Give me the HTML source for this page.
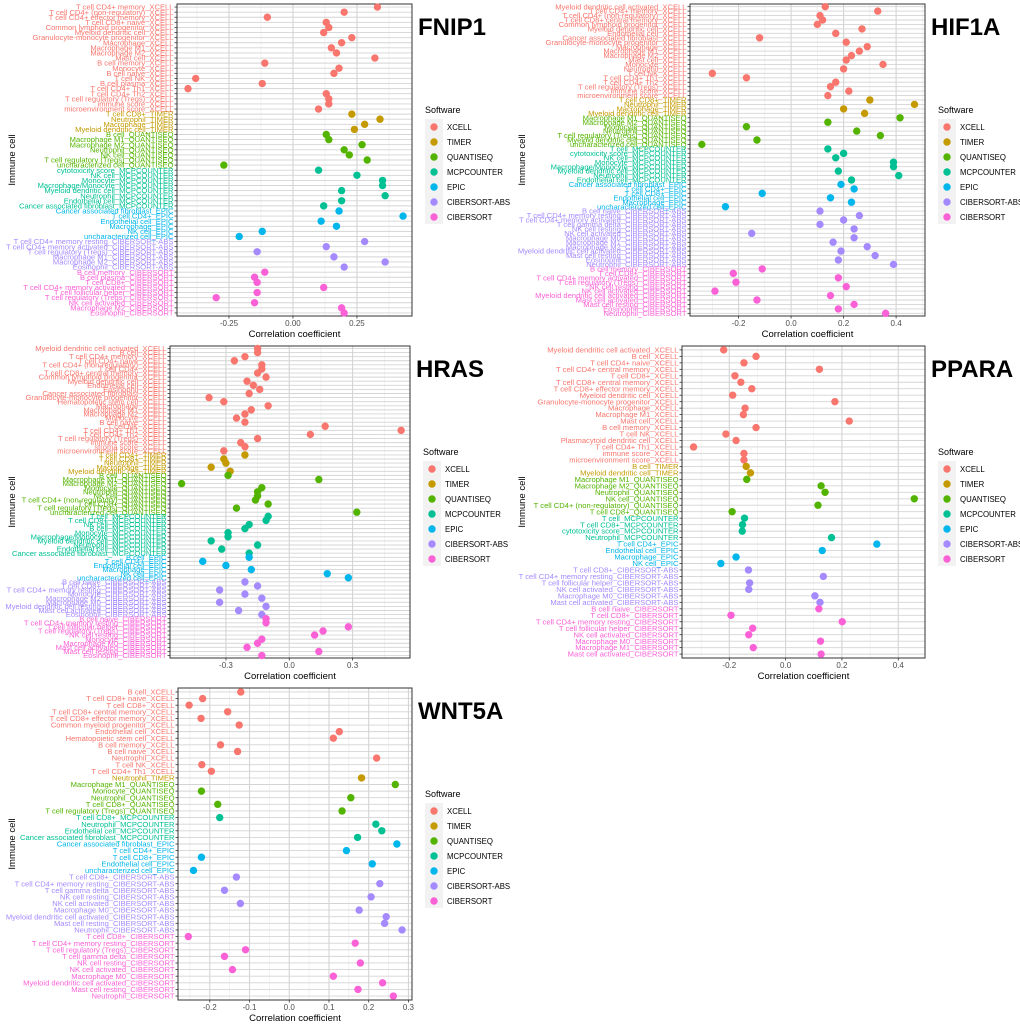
<!DOCTYPE html>
<html><head><meta charset="utf-8"><style>
html,body{margin:0;padding:0;background:#fff;}
svg{display:block;font-family:"Liberation Sans",sans-serif;}
</style></head><body>
<svg id="fig" width="1020" height="1024" viewBox="0 0 1020 1024" xmlns="http://www.w3.org/2000/svg"></svg>
<script>
const fnip1Labels=["T cell CD4+ memory_XCELL","T cell CD4+ (non-regulatory)_XCELL","T cell CD4+ effector memory_XCELL","T cell CD8+ naive_XCELL","Common lymphoid progenitor_XCELL","Myeloid dendritic cell_XCELL","Granulocyte-monocyte progenitor_XCELL","Macrophage_XCELL","Macrophage M1_XCELL","Macrophage M2_XCELL","Mast cell_XCELL","B cell memory_XCELL","Monocyte_XCELL","B cell naive_XCELL","T cell NK_XCELL","B cell plasma_XCELL","T cell CD4+ Th1_XCELL","T cell CD4+ Th2_XCELL","T cell regulatory (Tregs)_XCELL","immune score_XCELL","microenvironment score_XCELL","T cell CD8+_TIMER","Neutrophil_TIMER","Macrophage_TIMER","Myeloid dendritic cell_TIMER","B cell_QUANTISEQ","Macrophage M1_QUANTISEQ","Macrophage M2_QUANTISEQ","Neutrophil_QUANTISEQ","NK cell_QUANTISEQ","T cell regulatory (Tregs)_QUANTISEQ","uncharacterized cell_QUANTISEQ","cytotoxicity score_MCPCOUNTER","NK cell_MCPCOUNTER","Monocyte_MCPCOUNTER","Macrophage/Monocyte_MCPCOUNTER","Myeloid dendritic cell_MCPCOUNTER","Neutrophil_MCPCOUNTER","Endothelial cell_MCPCOUNTER","Cancer associated fibroblast_MCPCOUNTER","Cancer associated fibroblast_EPIC","T cell CD4+_EPIC","Endothelial cell_EPIC","Macrophage_EPIC","NK cell_EPIC","uncharacterized cell_EPIC","T cell CD4+ memory resting_CIBERSORT-ABS","T cell CD4+ memory activated_CIBERSORT-ABS","T cell regulatory (Tregs)_CIBERSORT-ABS","Macrophage M1_CIBERSORT-ABS","Macrophage M2_CIBERSORT-ABS","Eosinophil_CIBERSORT-ABS","B cell memory_CIBERSORT","B cell plasma_CIBERSORT","T cell CD8+_CIBERSORT","T cell CD4+ memory activated_CIBERSORT","T cell follicular helper_CIBERSORT","T cell regulatory (Tregs)_CIBERSORT","NK cell activated_CIBERSORT","Macrophage M2_CIBERSORT","Eosinophil_CIBERSORT"];
const fnip1Values=[0.33,0.20,-0.10,0.13,0.14,0.12,0.23,0.19,0.15,0.17,0.32,-0.11,0.18,0.16,-0.38,-0.12,-0.41,0.13,0.14,0.14,0.10,0.23,0.34,0.28,0.24,0.13,0.14,0.27,0.20,0.22,0.29,-0.27,0.10,0.25,0.35,0.35,0.19,0.36,0.19,0.12,0.18,0.43,0.11,0.17,-0.12,-0.21,0.28,0.13,-0.14,0.16,0.36,0.20,-0.11,-0.15,-0.14,0.12,-0.14,-0.30,-0.15,0.19,0.20];

const hif1aLabels=["Myeloid dendritic cell activated_XCELL","T cell CD4+ memory_XCELL","T cell CD4+ (non-regulatory)_XCELL","T cell CD8+ central memory_XCELL","Common lymphoid progenitor_XCELL","Myeloid dendritic cell_XCELL","Endothelial cell_XCELL","Cancer associated fibroblast_XCELL","Granulocyte-monocyte progenitor_XCELL","Macrophage_XCELL","Macrophage M1_XCELL","Macrophage M2_XCELL","Mast cell_XCELL","Monocyte_XCELL","Neutrophil_XCELL","T cell NK_XCELL","T cell CD4+ Th1_XCELL","T cell CD4+ Th2_XCELL","T cell regulatory (Tregs)_XCELL","immune score_XCELL","microenvironment score_XCELL","T cell CD8+_TIMER","Neutrophil_TIMER","Macrophage_TIMER","Myeloid dendritic cell_TIMER","Macrophage M1_QUANTISEQ","Macrophage M2_QUANTISEQ","Monocyte_QUANTISEQ","Neutrophil_QUANTISEQ","T cell regulatory (Tregs)_QUANTISEQ","Myeloid dendritic cell_QUANTISEQ","uncharacterized cell_QUANTISEQ","T cell_MCPCOUNTER","cytotoxicity score_MCPCOUNTER","NK cell_MCPCOUNTER","Monocyte_MCPCOUNTER","Macrophage/Monocyte_MCPCOUNTER","Myeloid dendritic cell_MCPCOUNTER","Neutrophil_MCPCOUNTER","Endothelial cell_MCPCOUNTER","Cancer associated fibroblast_EPIC","T cell CD4+_EPIC","T cell CD8+_EPIC","Endothelial cell_EPIC","Macrophage_EPIC","uncharacterized cell_EPIC","B cell naive_CIBERSORT-ABS","T cell CD4+ memory resting_CIBERSORT-ABS","T cell CD4+ memory activated_CIBERSORT-ABS","T cell gamma delta_CIBERSORT-ABS","NK cell resting_CIBERSORT-ABS","NK cell activated_CIBERSORT-ABS","Macrophage M0_CIBERSORT-ABS","Macrophage M1_CIBERSORT-ABS","Macrophage M2_CIBERSORT-ABS","Myeloid dendritic cell activated_CIBERSORT-ABS","Mast cell resting_CIBERSORT-ABS","Eosinophil_CIBERSORT-ABS","Neutrophil_CIBERSORT-ABS","B cell memory_CIBERSORT","T cell CD8+_CIBERSORT","T cell CD4+ memory activated_CIBERSORT","T cell regulatory (Tregs)_CIBERSORT","NK cell resting_CIBERSORT","NK cell activated_CIBERSORT","Myeloid dendritic cell activated_CIBERSORT","Mast cell activated_CIBERSORT","Mast cell resting_CIBERSORT","Eosinophil_CIBERSORT","Neutrophil_CIBERSORT"];
const hif1aValues=[0.13,0.33,0.11,0.12,0.10,0.27,0.17,-0.12,0.21,0.29,0.26,0.23,0.21,0.35,0.20,-0.30,-0.17,0.17,0.15,0.22,0.14,0.30,0.47,0.20,0.28,0.415,0.14,-0.17,0.25,0.34,-0.13,-0.34,0.14,0.20,0.17,0.39,0.39,0.18,0.41,0.23,0.19,0.24,-0.11,0.15,0.23,-0.25,0.11,0.26,0.20,0.11,0.24,-0.15,0.24,0.16,0.29,0.19,0.32,0.18,0.39,-0.11,-0.22,0.18,-0.21,0.21,-0.29,0.15,-0.13,0.24,0.18,0.36];

const hrasLabels=["Myeloid dendritic cell activated_XCELL","B cell_XCELL","T cell CD4+ memory_XCELL","T cell CD4+ naive_XCELL","T cell CD4+ (non-regulatory)_XCELL","T cell CD4+_XCELL","T cell CD8+ central memory_XCELL","Common lymphoid progenitor_XCELL","Myeloid dendritic cell_XCELL","Endothelial cell_XCELL","Eosinophil_XCELL","Cancer associated fibroblast_XCELL","Granulocyte-monocyte progenitor_XCELL","Hematopoietic stem cell_XCELL","Macrophage_XCELL","Macrophage M1_XCELL","Macrophage M2_XCELL","Monocyte_XCELL","B cell naive_XCELL","T cell NK_XCELL","T cell CD4+ Th1_XCELL","T cell CD4+ Th2_XCELL","T cell regulatory (Tregs)_XCELL","immune score_XCELL","stroma score_XCELL","microenvironment score_XCELL","T cell CD4+_TIMER","T cell CD8+_TIMER","Neutrophil_TIMER","Macrophage_TIMER","Myeloid dendritic cell_TIMER","B cell_QUANTISEQ","Macrophage M1_QUANTISEQ","Macrophage M2_QUANTISEQ","Monocyte_QUANTISEQ","Neutrophil_QUANTISEQ","NK cell_QUANTISEQ","T cell CD4+ (non-regulatory)_QUANTISEQ","T cell CD8+_QUANTISEQ","T cell regulatory (Tregs)_QUANTISEQ","uncharacterized cell_QUANTISEQ","T cell_MCPCOUNTER","T cell CD8+_MCPCOUNTER","NK cell_MCPCOUNTER","B cell_MCPCOUNTER","Monocyte_MCPCOUNTER","Macrophage/Monocyte_MCPCOUNTER","Myeloid dendritic cell_MCPCOUNTER","Neutrophil_MCPCOUNTER","Endothelial cell_MCPCOUNTER","Cancer associated fibroblast_MCPCOUNTER","B cell_EPIC","T cell CD4+_EPIC","Endothelial cell_EPIC","Macrophage_EPIC","NK cell_EPIC","uncharacterized cell_EPIC","B cell naive_CIBERSORT-ABS","T cell CD8+_CIBERSORT-ABS","T cell CD4+ memory resting_CIBERSORT-ABS","Monocyte_CIBERSORT-ABS","Macrophage M2_CIBERSORT-ABS","Macrophage M0_CIBERSORT-ABS","Myeloid dendritic cell resting_CIBERSORT-ABS","Mast cell activated_CIBERSORT-ABS","Eosinophil_CIBERSORT-ABS","B cell naive_CIBERSORT","T cell CD4+ memory resting_CIBERSORT","T cell follicular helper_CIBERSORT","T cell regulatory (Tregs)_CIBERSORT","NK cell resting_CIBERSORT","Monocyte_CIBERSORT","Macrophage M0_CIBERSORT","Mast cell activated_CIBERSORT","Mast cell resting_CIBERSORT","Eosinophil_CIBERSORT"];
const hrasValues=[-0.15,-0.15,-0.21,-0.26,-0.13,-0.13,-0.15,-0.11,-0.20,-0.17,-0.14,-0.19,-0.38,-0.31,-0.10,-0.18,-0.21,-0.25,-0.21,0.17,0.53,0.10,-0.15,-0.23,-0.21,-0.31,-0.21,-0.31,-0.30,-0.37,-0.28,-0.29,0.14,-0.51,-0.13,-0.15,-0.15,-0.16,-0.10,-0.25,0.32,-0.10,-0.11,-0.19,-0.21,-0.29,-0.29,-0.37,-0.15,-0.32,-0.19,-0.19,-0.41,-0.30,-0.18,0.18,0.28,-0.21,-0.15,-0.33,-0.21,-0.13,-0.33,-0.11,-0.24,-0.13,-0.11,-0.11,0.28,0.16,0.12,-0.13,-0.15,-0.20,0.14,-0.13];

const pparaLabels=["Myeloid dendritic cell activated_XCELL","B cell_XCELL","T cell CD4+ naive_XCELL","T cell CD4+ central memory_XCELL","T cell CD8+_XCELL","T cell CD8+ central memory_XCELL","T cell CD8+ effector memory_XCELL","Myeloid dendritic cell_XCELL","Granulocyte-monocyte progenitor_XCELL","Macrophage_XCELL","Macrophage M1_XCELL","Mast cell_XCELL","B cell memory_XCELL","T cell NK_XCELL","Plasmacytoid dendritic cell_XCELL","T cell CD4+ Th1_XCELL","immune score_XCELL","microenvironment score_XCELL","B cell_TIMER","Myeloid dendritic cell_TIMER","Macrophage M1_QUANTISEQ","Macrophage M2_QUANTISEQ","Neutrophil_QUANTISEQ","NK cell_QUANTISEQ","T cell CD4+ (non-regulatory)_QUANTISEQ","T cell CD8+_QUANTISEQ","T cell_MCPCOUNTER","T cell CD8+_MCPCOUNTER","cytotoxicity score_MCPCOUNTER","Neutrophil_MCPCOUNTER","T cell CD4+_EPIC","Endothelial cell_EPIC","Macrophage_EPIC","NK cell_EPIC","T cell CD8+_CIBERSORT-ABS","T cell CD4+ memory resting_CIBERSORT-ABS","T cell follicular helper_CIBERSORT-ABS","NK cell activated_CIBERSORT-ABS","Macrophage M0_CIBERSORT-ABS","Mast cell activated_CIBERSORT-ABS","B cell naive_CIBERSORT","T cell CD8+_CIBERSORT","T cell CD4+ memory resting_CIBERSORT","T cell follicular helper_CIBERSORT","NK cell activated_CIBERSORT","Macrophage M0_CIBERSORT","Macrophage M1_CIBERSORT","Mast cell activated_CIBERSORT"];
const pparaValues=[-0.22,-0.105,-0.148,0.12,-0.18,-0.159,-0.12,-0.188,0.175,-0.144,-0.15,0.226,-0.105,-0.212,-0.176,-0.327,-0.148,-0.148,-0.14,-0.125,-0.138,0.126,0.14,0.457,0.115,-0.19,-0.146,-0.153,-0.154,0.163,0.324,0.13,-0.176,-0.23,-0.132,0.134,-0.128,-0.131,0.104,0.122,0.118,-0.194,0.201,-0.117,-0.131,0.124,-0.115,0.126];

const wnt5aLabels=["B cell_XCELL","T cell CD8+ naive_XCELL","T cell CD8+_XCELL","T cell CD8+ central memory_XCELL","T cell CD8+ effector memory_XCELL","Common myeloid progenitor_XCELL","Endothelial cell_XCELL","Hematopoietic stem cell_XCELL","B cell memory_XCELL","B cell naive_XCELL","Neutrophil_XCELL","T cell NK_XCELL","T cell CD4+ Th1_XCELL","Neutrophil_TIMER","Macrophage M1_QUANTISEQ","Monocyte_QUANTISEQ","Neutrophil_QUANTISEQ","T cell CD8+_QUANTISEQ","T cell regulatory (Tregs)_QUANTISEQ","T cell CD8+_MCPCOUNTER","Neutrophil_MCPCOUNTER","Endothelial cell_MCPCOUNTER","Cancer associated fibroblast_MCPCOUNTER","Cancer associated fibroblast_EPIC","T cell CD4+_EPIC","T cell CD8+_EPIC","Endothelial cell_EPIC","uncharacterized cell_EPIC","T cell CD8+_CIBERSORT-ABS","T cell CD4+ memory resting_CIBERSORT-ABS","T cell gamma delta_CIBERSORT-ABS","NK cell resting_CIBERSORT-ABS","NK cell activated_CIBERSORT-ABS","Macrophage M0_CIBERSORT-ABS","Myeloid dendritic cell activated_CIBERSORT-ABS","Mast cell resting_CIBERSORT-ABS","Neutrophil_CIBERSORT-ABS","T cell CD8+_CIBERSORT","T cell CD4+ memory resting_CIBERSORT","T cell regulatory (Tregs)_CIBERSORT","T cell gamma delta_CIBERSORT","NK cell resting_CIBERSORT","NK cell activated_CIBERSORT","Macrophage M0_CIBERSORT","Myeloid dendritic cell activated_CIBERSORT","Mast cell resting_CIBERSORT","Neutrophil_CIBERSORT"];
const wnt5aValues=[-0.122,-0.218,-0.252,-0.155,-0.222,-0.126,0.126,0.111,-0.173,-0.130,0.22,-0.22,-0.196,0.182,0.267,-0.221,0.155,-0.180,0.133,-0.175,0.218,0.233,0.172,0.271,0.144,-0.221,0.209,-0.241,-0.133,0.228,-0.163,0.206,-0.123,0.176,0.244,0.24,0.284,-0.254,0.166,-0.11,-0.163,0.179,-0.143,0.111,0.235,0.173,0.262];

const softwareNames=["XCELL","TIMER","QUANTISEQ","MCPCOUNTER","EPIC","CIBERSORT-ABS","CIBERSORT"];
const softwareColors=["#F8766D","#C49A00","#53B400","#00C094","#00B6EB","#A58AFF","#FB61D7"];

const NS="http://www.w3.org/2000/svg";
const svg=document.getElementById('fig');
function mk(tag,attrs,parent,text){const e=document.createElementNS(NS,tag);for(const k in attrs)e.setAttribute(k,attrs[k]);if(text!==undefined)e.textContent=text;(parent||svg).appendChild(e);return e;}
function colorOf(label){const s=label.slice(label.lastIndexOf('_')+1);const i=softwareNames.indexOf(s);return softwareColors[i<0?0:i];}

function drawPanel(p){
  const g=mk('g',{});
  
  
  const xs=v=>p.x1+(v-p.min)/(p.max-p.min)*(p.x2-p.x1);
  const n=p.labels.length;
  const step=(p.y2-p.y1)/(n-1+1.2);
  const ys=i=>p.y1+(0.6+i)*step;
  mk('rect',{x:p.x1,y:p.y1,width:p.x2-p.x1,height:p.y2-p.y1,fill:'#fff'},g);
  p.minor.forEach(v=>mk('line',{x1:xs(v),x2:xs(v),y1:p.y1,y2:p.y2,stroke:'#ebebeb','stroke-width':0.6},g));
  p.labels.forEach((l,i)=>mk('line',{x1:p.x1,x2:p.x2,y1:ys(i),y2:ys(i),stroke:'#d4d4d4','stroke-width':0.9},g));
  p.ticks.forEach(v=>mk('line',{x1:xs(v),x2:xs(v),y1:p.y1,y2:p.y2,stroke:'#d4d4d4','stroke-width':1.1},g));
  const border=mk('rect',{x:p.x1,y:p.y1,width:p.x2-p.x1,height:p.y2-p.y1,fill:'none',stroke:'#333','stroke-width':1},g);
  
  
  // y labels and ticks
  p.labels.forEach((l,i)=>{
    mk('line',{x1:p.x1-2.5,x2:p.x1,y1:ys(i),y2:ys(i),stroke:'#333','stroke-width':0.8},g);
    const t=mk('text',{x:p.x1-3.5,y:ys(i)+2.6,'text-anchor':'end','font-size':7.6,fill:colorOf(l)},g,l);
    
    
  });
  // x ticks
  p.ticks.forEach((v,k)=>{
    mk('line',{x1:xs(v),x2:xs(v),y1:p.y2,y2:p.y2+2.5,stroke:'#333','stroke-width':0.8},g);
    const t=mk('text',{x:xs(v),y:p.y2+10,'text-anchor':'middle','font-size':8,fill:'#4d4d4d'},g,p.tickLabels[k]);
    
    
  });
  const xt=mk('text',{x:(p.x1+p.x2)/2,y:p.y2+21,'text-anchor':'middle','font-size':9.5,fill:'#000'},g,'Correlation coefficient');
  
  
  const yt=mk('text',{x:0,y:0,'text-anchor':'middle','font-size':9.5,fill:'#000',transform:`translate(${p.yTitleX},${(p.y1+p.y2)/2}) rotate(-90)`},g,'Immune cell');
  
  
  // points
  p.values.forEach((v,i)=>{
    const c=mk('circle',{cx:xs(v),cy:ys(i),r:3.7,fill:colorOf(p.labels[i])},g);
    
    
  });
  // title
  const tt=mk('text',{x:p.x2+6,y:p.y1+31,'font-size':24,'font-weight':'bold',fill:'#000'},g,p.title);
  
  
  // legend
  const lg=mk('g',{},g);
  
  
  const lx=p.x2+13, ly=p.y1+106;
  mk('text',{x:lx,y:ly+3,'font-size':9,fill:'#000'},lg,'Software');
  mk('rect',{x:lx,y:ly+9,width:18,height:105,fill:'#f2f2f2'},lg);
  softwareNames.forEach((s,k)=>{
    const e=mk('g',{},lg);
    
    
    mk('circle',{cx:lx+9,cy:ly+17+k*15,r:3.7,fill:softwareColors[k]},e);
    mk('text',{x:lx+22,y:ly+20+k*15,'font-size':7.8,fill:'#000'},e,s);
  });
}

drawPanel({id:'fnip1',title:'FNIP1',labels:fnip1Labels,values:fnip1Values,x1:177,x2:412,y1:4,y2:316,min:-0.453,max:0.465,ticks:[-0.25,0,0.25],tickLabels:['-0.25','0.00','0.25'],minor:[-0.375,-0.125,0.125,0.375],yTitleX:15});
drawPanel({id:'hif1a',title:'HIF1A',labels:hif1aLabels,values:hif1aValues,x1:690,x2:925,y1:4,y2:316,min:-0.385,max:0.51,ticks:[-0.2,0,0.2,0.4],tickLabels:['-0.2','0.0','0.2','0.4'],minor:[-0.3,-0.1,0.1,0.3,0.5],yTitleX:525});
drawPanel({id:'hras',title:'HRAS',labels:hrasLabels,values:hrasValues,x1:170,x2:410,y1:346,y2:658,min:-0.565,max:0.572,ticks:[-0.3,0,0.3],tickLabels:['-0.3','0.0','0.3'],minor:[-0.45,-0.15,0.15,0.45],yTitleX:15});
drawPanel({id:'ppara',title:'PPARA',labels:pparaLabels,values:pparaValues,x1:682,x2:925,y1:346,y2:658,min:-0.368,max:0.495,ticks:[-0.2,0,0.2,0.4],tickLabels:['-0.2','0.0','0.2','0.4'],minor:[-0.3,-0.1,0.1,0.3],yTitleX:525});
drawPanel({id:'wnt5a',title:'WNT5A',labels:wnt5aLabels,values:wnt5aValues,x1:178,x2:412,y1:688,y2:1000,min:-0.280,max:0.309,ticks:[-0.2,-0.1,0,0.1,0.2,0.3],tickLabels:['-0.2','-0.1','0.0','0.1','0.2','0.3'],minor:[-0.25,-0.15,-0.05,0.05,0.15,0.25],yTitleX:15});
</script>
</body></html>
